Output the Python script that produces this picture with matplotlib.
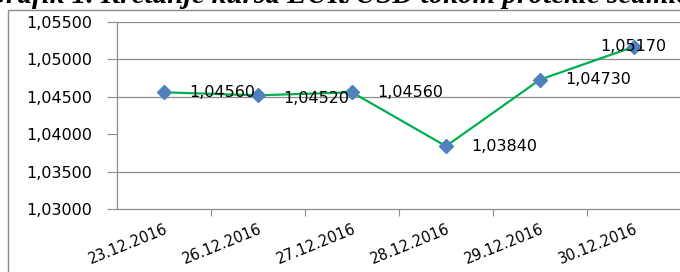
import matplotlib.pyplot as plt
from matplotlib.patches import Rectangle

# podaci: kurs EUR/USD
datumi = ['23.12.2016', '26.12.2016', '27.12.2016', '28.12.2016', '29.12.2016', '30.12.2016']
kurs = [1.04560, 1.04520, 1.04560, 1.03840, 1.04730, 1.05170]
y_ticks = [1.030, 1.035, 1.040, 1.045, 1.050, 1.055]
naslov = 'Grafik 1. Kretanje kursa EUR/USD tokom protekle sedmice'

W, H = 680, 272
fig = plt.figure(figsize=(W / 100, H / 100), dpi=100)
ax = fig.add_axes([117 / W, 1 - 209 / H, 564 / W, 187 / H])

x = list(range(len(datumi)))
ax.plot(x, kurs, color='#00B050', lw=1.6, marker='D', ms=7,
        mfc='#4F81BD', mec='#4F81BD', zorder=3)

# oznake vrijednosti
for i, v in enumerate(kurs):
    dx = -24 if i == len(kurs) - 1 else 18
    dy = -2 if i == 1 else 0
    ax.annotate(('%.5f' % v).replace('.', ','), (i, v), xytext=(dx, dy),
                textcoords='offset points', ha='left', va='center',
                fontsize=11.5, family='DejaVu Sans', color='black', zorder=4)

ax.set_xlim(-0.5, len(datumi) - 0.5)
ax.set_ylim(1.030, 1.055)
ax.set_yticks(y_ticks)
ax.set_yticklabels([('%.5f' % t).replace('.', ',') for t in y_ticks],
                   fontsize=11.5, family='DejaVu Sans')
for t in y_ticks:
    if abs(t - 1.040) > 1e-9 and t > 1.030:
        ax.axhline(t, color='#8c8c8c', lw=0.9, zorder=1)

ax.set_xticks([i + 0.5 for i in x[:-1]])
ax.set_xticklabels([])
ax.set_xticks(x, minor=True)
ax.set_xticklabels(datumi, minor=True, rotation=22, ha='right', va='top',
                   rotation_mode='anchor', fontsize=10.5, family='DejaVu Sans')
ax.tick_params(axis='x', which='minor', length=0, pad=9)
ax.tick_params(axis='x', which='major', length=5, color='#8c8c8c', direction='out')
ax.tick_params(axis='y', length=7, color='#8c8c8c', pad=11)

for s in ['top', 'right']:
    ax.spines[s].set_visible(False)
for s in ['left', 'bottom']:
    ax.spines[s].set_color('#8c8c8c')
    ax.spines[s].set_linewidth(0.9)

# okvir oko grafikona
fig.patches.append(Rectangle((8 / W, -0.1), 1.2, 1 - 10 / H + 0.1,
                             transform=fig.transFigure, fill=False,
                             ec='#8c8c8c', lw=1.0))

# naslov je u originalu odsjecen gornjom ivicom
fig.text(0.505, 1 - 3 / H, naslov, ha='center', va='baseline', fontsize=21,
         family='Liberation Serif', weight='bold', style='italic')

fig.savefig('out.png', dpi=100)
